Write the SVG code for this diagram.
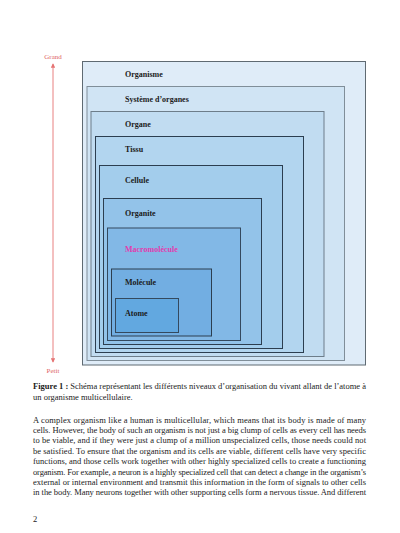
<svg xmlns="http://www.w3.org/2000/svg" width="400" height="533" viewBox="0 0 400 533">
<defs>
<style>
.lbl{font-family:"Liberation Serif","DejaVu Serif",serif;font-weight:bold;font-size:8px;fill:#1b1b1b}
.ax{font-family:"Liberation Serif","DejaVu Serif",serif;font-size:7px;fill:#e06666;text-anchor:middle}
.body{font-family:"Liberation Serif","DejaVu Serif",serif;font-size:8.5px;fill:#222}
.box{stroke-width:1}
</style>
<marker id="ah" viewBox="0 0 6 6" refX="5" refY="3" markerWidth="5" markerHeight="5" orient="auto-start-reverse">
<path d="M0,0 L6,3 L0,6 z" fill="#e57373"/>
</marker>
</defs>
<rect width="400" height="533" fill="#ffffff"/>
<g id="connectors">
<line x1="53" y1="362" x2="53" y2="64" stroke="#e57373" stroke-width="0.9" marker-end="url(#ah)" marker-start="url(#ah)"/>
</g>
<text class="ax" x="53" y="59">Grand</text>
<text class="ax" x="53" y="373">Petit</text>
<g id="organisme"><rect class="box" x="82.5" y="61.5" width="283" height="303.5" fill="#dfecf8" stroke="#5f6a72"/><text class="lbl" x="125" y="76.5">Organisme</text></g>
<g id="systeme"><rect class="box" x="87" y="86.5" width="257.5" height="274" fill="#d0e4f4" stroke="#808e99"/><text class="lbl" x="125" y="101.5">Système d’organes</text></g>
<g id="organe"><rect class="box" x="91" y="111.5" width="233" height="245" fill="#c1dcf1" stroke="#6d7d8a"/><text class="lbl" x="125" y="126.5">Organe</text></g>
<g id="tissu"><rect class="box" x="95.5" y="136.5" width="208" height="216" fill="#b2d5ef" stroke="#2c3e50"/><text class="lbl" x="125" y="151.5">Tissu</text></g>
<g id="cellule"><rect class="box" x="99.5" y="165.5" width="183" height="183" fill="#a3cdec" stroke="#2c3e50"/><text class="lbl" x="125" y="183">Cellule</text></g>
<g id="organite"><rect class="box" x="103.5" y="198.5" width="158" height="146" fill="#93c3e9" stroke="#2c3e50"/><text class="lbl" x="125" y="215.5">Organite</text></g>
<g id="macromolecule"><rect class="box" x="107.5" y="228" width="133" height="112.5" fill="#82b8e6" stroke="#34495e"/><text class="lbl" x="125" y="252" style="fill:#e03cae">Macromolécule</text></g>
<g id="molecule"><rect class="box" x="111.5" y="269" width="100" height="67" fill="#72aee2" stroke="#2c3e50"/><text class="lbl" x="125" y="285">Molécule</text></g>
<g id="atome"><rect class="box" x="115.5" y="298.5" width="63" height="34" fill="#62a8e0" stroke="#34495e"/><text class="lbl" x="125" y="316">Atome</text></g>
<text class="body" x="33" y="389" textLength="333" lengthAdjust="spacing"><tspan font-weight="bold">Figure 1 :</tspan> Schéma représentant les différents niveaux d’organisation du vivant allant de l’atome à</text>
<text class="body" x="33" y="399.5">un organisme multicellulaire.</text>
<text class="body" x="33" y="422.5" textLength="333" lengthAdjust="spacing">A complex organism like a human is multicellular, which means that its body is made of many</text>
<text class="body" x="33" y="432.9" textLength="333" lengthAdjust="spacing">cells. However, the body of such an organism is not just a big clump of cells as every cell has needs</text>
<text class="body" x="33" y="443.3" textLength="333" lengthAdjust="spacing">to be viable, and if they were just a clump of a million unspecialized cells, those needs could not</text>
<text class="body" x="33" y="453.7" textLength="333" lengthAdjust="spacing">be satisfied. To ensure that the organism and its cells are viable, different cells have very specific</text>
<text class="body" x="33" y="464.1" textLength="333" lengthAdjust="spacing">functions, and those cells work together with other highly specialized cells to create a functioning</text>
<text class="body" x="33" y="474.5" textLength="333" lengthAdjust="spacing">organism. For example, a neuron is a highly specialized cell that can detect a change in the organism’s</text>
<text class="body" x="33" y="484.9" textLength="333" lengthAdjust="spacing">external or internal environment and transmit this information in the form of signals to other cells</text>
<text class="body" x="33" y="495.3" textLength="333" lengthAdjust="spacing">in the body. Many neurons together with other supporting cells form a nervous tissue. And different</text>
<text class="body" x="33" y="521.5">2</text>
</svg>
